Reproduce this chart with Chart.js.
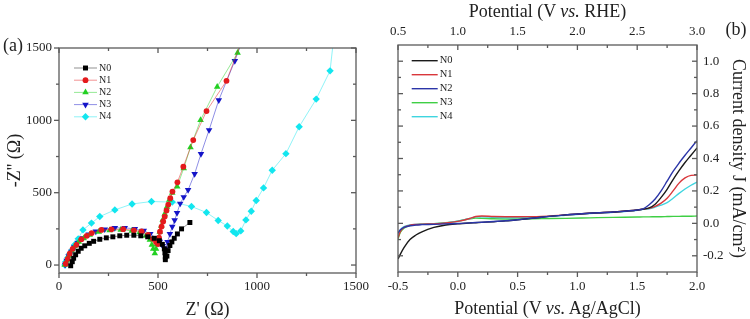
<!DOCTYPE html>
<html><head><meta charset="utf-8">
<script src="https://cdn.jsdelivr.net/npm/chart.js@4.4.1/dist/chart.umd.min.js"></script>
<style>
html,body{margin:0;padding:0;background:#fff;}
#wrap{position:relative;width:750px;height:319px;overflow:hidden;font-family:'Liberation Serif','Times New Roman',serif;color:#222;}
canvas{position:absolute;top:0;}
#ca{left:0;} #cb{left:375px;}
.lbl{position:absolute;font-size:18px;line-height:18px;white-space:nowrap;}
</style></head><body>
<div id="wrap">
<canvas id="ca" width="375" height="319"></canvas>
<canvas id="cb" width="375" height="319"></canvas>
<div class="lbl" style="left:2px;top:36px;width:22px;text-align:center">(a)</div>
<div class="lbl" style="left:725px;top:20px;width:22px;text-align:center">(b)</div>
<div class="lbl" style="left:398px;width:299px;text-align:center;top:2px">Potential (V <i>vs.</i> RHE)</div>
<div class="lbl" style="left:398px;width:299px;text-align:center;top:299px">Potential (V <i>vs.</i> Ag/AgCl)</div>
</div>
<script>
// ---------- Panel (a): Nyquist data ----------
const seriesNames = ['N0', 'N1', 'N2', 'N3', 'N4'];
const zReTicks = [0, 500, 1000, 1500];
const zImTicks = [0, 500, 1000, 1500];

const reN0 = [59, 67, 74, 84, 97, 112, 130, 153, 175, 206, 239, 272, 307, 342, 378, 413, 448, 481, 507, 522, 532, 535, 537, 537, 545, 551, 560, 570, 582, 598, 619, 661];
const imN0 = [-5, 23, 47, 71, 95, 116, 133, 150, 164, 178, 188, 195, 202, 206, 206, 202, 195, 185, 168, 143, 112, 85, 57, 37, 62, 100, 135, 160, 185, 215, 250, 294];

const reN1 = [34, 44, 54, 69, 88, 113, 140, 165, 214, 265, 324, 378, 417, 450, 474, 490, 500, 505, 510, 518, 526, 534, 543, 552, 562, 573, 598, 628, 678, 745, 846, 965];
const imN1 = [9, 43, 78, 112, 140, 178, 202, 221, 243, 247, 248, 240, 233, 209, 181, 160, 145, 190, 230, 266, 301, 335, 377, 418, 462, 508, 572, 680, 864, 1064, 1273, 1700];

const reN2 = [29, 39, 49, 64, 79, 100, 125, 155, 201, 256, 312, 368, 408, 439, 459, 469, 476, 484, 490, 495, 502, 509, 517, 524, 534, 545, 557, 572, 597, 630, 664, 715, 799, 902, 925];
const imN2 = [2, 30, 64, 99, 130, 161, 185, 209, 230, 240, 243, 237, 226, 202, 174, 140, 112, 80, 112, 145, 188, 230, 271, 312, 354, 402, 450, 499, 542, 669, 814, 1002, 1232, 1466, 1560];

const reN3 = [31, 39, 49, 62, 77, 95, 120, 150, 186, 231, 282, 332, 383, 428, 461, 489, 509, 524, 532, 537, 548, 560, 572, 584, 596, 612, 630, 652, 685, 717, 758, 807, 888, 939];
const imN3 = [2, 30, 61, 92, 123, 154, 185, 212, 233, 247, 257, 257, 250, 237, 216, 188, 161, 133, 115, 110, 160, 215, 265, 310, 360, 425, 470, 519, 630, 768, 933, 1140, 1411, 1600];

const reN4 = [30, 34, 44, 54, 67, 79, 97, 121, 164, 206, 282, 369, 467, 572, 669, 745, 804, 850, 880, 895, 918, 944, 971, 996, 1033, 1077, 1146, 1213, 1299, 1369, 1398];
const imN4 = [0, 23, 50, 78, 106, 140, 181, 243, 290, 335, 381, 422, 439, 435, 405, 363, 308, 270, 232, 217, 236, 312, 372, 446, 533, 655, 770, 956, 1147, 1342, 1700];

// ---------- Panel (b): LSV data ----------
const potAgCl = [-0.5, -0.48, -0.45, -0.4, -0.35, -0.3, -0.2, -0.1, 0, 0.1, 0.15, 0.2, 0.3, 0.4, 0.5, 0.7, 0.9, 1.1, 1.3, 1.5, 1.55, 1.6, 1.65, 1.7, 1.75, 1.8, 1.85, 1.9, 1.95, 2.0];
const jN0 = [-0.22, -0.19, -0.15, -0.10, -0.072, -0.052, -0.025, -0.01, -0.003, 0.002, 0.004, 0.006, 0.010, 0.015, 0.022, 0.038, 0.052, 0.062, 0.070, 0.082, 0.088, 0.095, 0.118, 0.16, 0.21, 0.27, 0.325, 0.375, 0.42, 0.465];
const jN1 = [-0.09, -0.05, -0.025, -0.012, -0.007, -0.005, -0.003, 0.002, 0.012, 0.03, 0.042, 0.045, 0.042, 0.041, 0.041, 0.043, 0.052, 0.062, 0.070, 0.082, 0.088, 0.092, 0.105, 0.125, 0.155, 0.20, 0.248, 0.28, 0.296, 0.298];
const jN2 = [-0.06, -0.04, -0.025, -0.015, -0.01, -0.008, -0.006, -0.003, -0.001, 0.003, 0.005, 0.007, 0.011, 0.016, 0.022, 0.038, 0.052, 0.062, 0.070, 0.082, 0.09, 0.115, 0.15, 0.20, 0.26, 0.32, 0.372, 0.42, 0.465, 0.51];
const jN3 = [-0.095, -0.055, -0.03, -0.014, -0.008, -0.005, -0.002, 0.004, 0.014, 0.028, 0.032, 0.031, 0.028, 0.027, 0.027, 0.029, 0.031, 0.034, 0.037, 0.039, 0.04, 0.04, 0.041, 0.041, 0.042, 0.043, 0.043, 0.044, 0.044, 0.045];
const jN4 = [-0.07, -0.04, -0.02, -0.01, -0.006, -0.004, -0.002, 0.003, 0.013, 0.03, 0.04, 0.041, 0.037, 0.035, 0.036, 0.041, 0.05, 0.06, 0.068, 0.08, 0.087, 0.09, 0.10, 0.112, 0.128, 0.155, 0.185, 0.212, 0.235, 0.255];
const agclTicks = [-0.5, 0.0, 0.5, 1.0, 1.5, 2.0];
const rheTicks = [0.5, 1.0, 1.5, 2.0, 2.5, 3.0];
const jTicks = [-0.2, 0.0, 0.2, 0.4, 0.6, 0.8, 1.0];

// ---------- helpers ----------
Chart.defaults.font.family = "'Liberation Serif','Times New Roman',serif";
Chart.defaults.color = '#222';

function pairs(xs, ys) { return xs.map((x, i) => ({x: x, y: ys[i]})); }
function setTicks(arr) { return s => { s.ticks = arr.map(v => ({value: v})); }; }

function drawMarker(ctx, style, rot, x, y, r, color) {
  ctx.save();
  ctx.fillStyle = color;
  ctx.beginPath();
  if (style === 'circle') {
    ctx.arc(x, y, r, 0, Math.PI * 2);
  } else if (style === 'rect') {
    const s = Math.SQRT1_2 * r;
    ctx.rect(x - s, y - s, 2 * s, 2 * s);
  } else if (style === 'rectRot') {
    ctx.moveTo(x, y - r); ctx.lineTo(x + r, y); ctx.lineTo(x, y + r); ctx.lineTo(x - r, y);
  } else if (style === 'triangle') {
    const a = (rot || 0) * Math.PI / 180;
    for (let k = 0; k < 3; k++) {
      const t = a + k * 2 * Math.PI / 3;
      const px = x + Math.sin(t) * r, py = y - Math.cos(t) * r;
      if (k === 0) ctx.moveTo(px, py); else ctx.lineTo(px, py);
    }
  }
  ctx.closePath();
  ctx.fill();
  ctx.restore();
}

const frameTicks = {
  id: 'frameTicks',
  afterDraw(chart, args, o) {
    const ctx = chart.ctx, a = chart.chartArea;
    ctx.save();
    ctx.strokeStyle = o.color; ctx.lineWidth = o.width;
    o.sides.forEach(sd => {
      const sc = chart.scales[sd.scale];
      const maj = sc.ticks.map(t => t.value);
      const step = maj[1] - maj[0];
      const mins = [];
      for (let v = maj[0] - step / 2; v < sc.max + 1e-9; v += step) {
        if (v > sc.min + 1e-9 && v < sc.max - 1e-9) mins.push(v);
      }
      const sign = sd.dir === 'in' ? 1 : -1;
      const tick = (v, len) => {
        const p = sc.getPixelForValue(v);
        ctx.beginPath();
        if (sd.side === 'bottom') { ctx.moveTo(p, a.bottom); ctx.lineTo(p, a.bottom - sign * len); }
        if (sd.side === 'top') { ctx.moveTo(p, a.top); ctx.lineTo(p, a.top + sign * len); }
        if (sd.side === 'left') { ctx.moveTo(a.left, p); ctx.lineTo(a.left + sign * len, p); }
        if (sd.side === 'right') { ctx.moveTo(a.right, p); ctx.lineTo(a.right - sign * len, p); }
        ctx.stroke();
      };
      maj.forEach(v => tick(v, o.major));
      mins.forEach(v => tick(v, o.minor));
    });
    ctx.strokeRect(a.left, a.top, a.right - a.left, a.bottom - a.top);
    ctx.restore();
  }
};

const legendBox = {
  id: 'legendBox',
  afterDatasetsDraw(chart, args, o) {
    const ctx = chart.ctx;
    ctx.save();
    chart.data.datasets.forEach((ds, i) => {
      const y = o.y0 + i * o.dy;
      ctx.strokeStyle = ds.borderColor; ctx.lineWidth = o.lineWidth;
      ctx.beginPath(); ctx.moveTo(o.x0, y); ctx.lineTo(o.x1, y); ctx.stroke();
      if (o.markers) drawMarker(ctx, ds.pointStyle, ds.pointRotation, (o.x0 + o.x1) / 2, y, ds.pointRadius, ds.pointBackgroundColor);
      ctx.fillStyle = '#222'; ctx.font = o.font; ctx.textBaseline = 'middle'; ctx.textAlign = 'left';
      ctx.fillText(ds.label, o.x1 + o.gap, y);
    });
    ctx.restore();
  }
};

// ---------- Chart (a) ----------
const aColors = ['#000000', '#e41a1c', '#22d022', '#1414c8', '#12e6ef'];
const aLines = ['rgba(60,60,60,0.7)', 'rgba(228,26,28,0.6)', 'rgba(34,208,34,0.6)', 'rgba(20,20,200,0.6)', 'rgba(18,230,239,0.6)'];
const aStyles = ['rect', 'circle', 'triangle', 'triangle', 'rectRot'];
const aRot = [0, 0, 0, 180, 0];
const aRad = [3.5, 2.9, 3.8, 3.8, 3.7];
const aRe = [reN0, reN1, reN2, reN3, reN4];
const aIm = [imN0, imN1, imN2, imN3, imN4];

new Chart(document.getElementById('ca'), {
  type: 'line',
  data: {
    datasets: seriesNames.map((n, i) => ({
      label: n,
      data: pairs(aRe[i], aIm[i]),
      borderColor: aLines[i],
      borderWidth: 0.8,
      pointStyle: aStyles[i],
      pointRotation: aRot[i],
      pointRadius: aRad[i],
      pointBackgroundColor: aColors[i],
      pointBorderWidth: 0,
      tension: 0,
      order: i
    }))
  },
  options: {
    responsive: false, animation: false,
    layout: {padding: {top: 48, right: 18, left: 0, bottom: 0}},
    plugins: {
      legend: {display: false}, tooltip: {enabled: false},
      frameTicks: {color: '#5a5a5a', width: 1.3, major: 5, minor: 3, sides: [
        {side: 'bottom', scale: 'x', dir: 'out'}, {side: 'top', scale: 'x', dir: 'in'},
        {side: 'left', scale: 'y', dir: 'out'}, {side: 'right', scale: 'y', dir: 'in'}]},
      legendBox: {x0: 74, x1: 97, y0: 68, dy: 12.2, gap: 2, lineWidth: 0.8, markers: true, font: "10px 'Liberation Serif'"}
    },
    scales: {
      x: {type: 'linear', min: 0, max: 1500,
        afterBuildTicks: setTicks(zReTicks), afterFit: s => { s.height = 46; },
        grid: {display: false, drawTicks: false}, border: {display: false},
        ticks: {padding: 6, autoSkip: false, maxRotation: 0, font: {size: 13}, callback: v => String(v)},
        title: {display: true, text: "Z' (Ω)", font: {size: 18, lineHeight: 1}, padding: {top: 0, bottom: 0}}},
      y: {type: 'linear', min: -55, max: 1500,
        afterBuildTicks: setTicks(zImTicks), afterFit: s => { s.width = 59; },
        grid: {display: false, drawTicks: false}, border: {display: false},
        ticks: {padding: 7, autoSkip: false, font: {size: 13}, callback: v => String(v)},
        title: {display: true, text: "-Z'' (Ω)", font: {size: 18, lineHeight: 1}, padding: {top: 6, bottom: 0}}}
    }
  },
  plugins: [frameTicks, legendBox]
});

// ---------- Chart (b) ----------
const bColors = ['#1a1a1a', '#d9373b', '#2b35a8', '#3fcf45', '#3fd5df'];
const bJ = [jN0, jN1, jN2, jN3, jN4];
const bOrder = [1, 2, 0, 4, 3];

new Chart(document.getElementById('cb'), {
  type: 'line',
  data: {
    datasets: seriesNames.map((n, i) => ({
      label: n,
      data: pairs(potAgCl, bJ[i]),
      borderColor: bColors[i],
      borderWidth: 1.4,
      pointRadius: 0,
      cubicInterpolationMode: 'monotone',
      xAxisID: 'x', yAxisID: 'y',
      order: bOrder[i]
    }))
  },
  options: {
    responsive: false, animation: false,
    layout: {padding: {top: 0, right: 0, left: 23, bottom: 0}},
    plugins: {
      legend: {display: false}, tooltip: {enabled: false},
      frameTicks: {color: '#5a5a5a', width: 1.3, major: 5, minor: 3, sides: [
        {side: 'bottom', scale: 'x', dir: 'out'}, {side: 'top', scale: 'x2', dir: 'in'},
        {side: 'left', scale: 'y', dir: 'in'}, {side: 'right', scale: 'y', dir: 'in'}]},
      legendBox: {x0: 36.7, x1: 62.7, y0: 60.7, dy: 14, gap: 2, lineWidth: 1.4, markers: false, font: "10.5px 'Liberation Serif'"}
    },
    scales: {
      x: {type: 'linear', position: 'bottom', min: -0.5, max: 2.0,
        afterBuildTicks: setTicks(agclTicks), afterFit: s => { s.height = 47; },
        grid: {display: false, drawTicks: false}, border: {display: false},
        ticks: {padding: 6.5, autoSkip: false, maxRotation: 0, font: {size: 13}, callback: v => v.toFixed(1)}},
      x2: {type: 'linear', position: 'top', min: 0.5, max: 3.0,
        afterBuildTicks: setTicks(rheTicks), afterFit: s => { s.height = 45; },
        grid: {display: false, drawTicks: false}, border: {display: false},
        ticks: {padding: 5.5, autoSkip: false, maxRotation: 0, font: {size: 13}, callback: v => v.toFixed(1)}},
      y: {type: 'linear', position: 'right', min: -0.3, max: 1.1,
        afterBuildTicks: setTicks(jTicks), afterFit: s => { s.width = 53; },
        grid: {display: false, drawTicks: false}, border: {display: false},
        ticks: {padding: 6, autoSkip: false, font: {size: 13}, callback: v => v.toFixed(1)},
        title: {display: true, text: 'Current density J (mA/cm²)', font: {size: 18, lineHeight: 1}, padding: {top: 3, bottom: 0}}}
    }
  },
  plugins: [frameTicks, legendBox]
});
</script>
</body></html>
